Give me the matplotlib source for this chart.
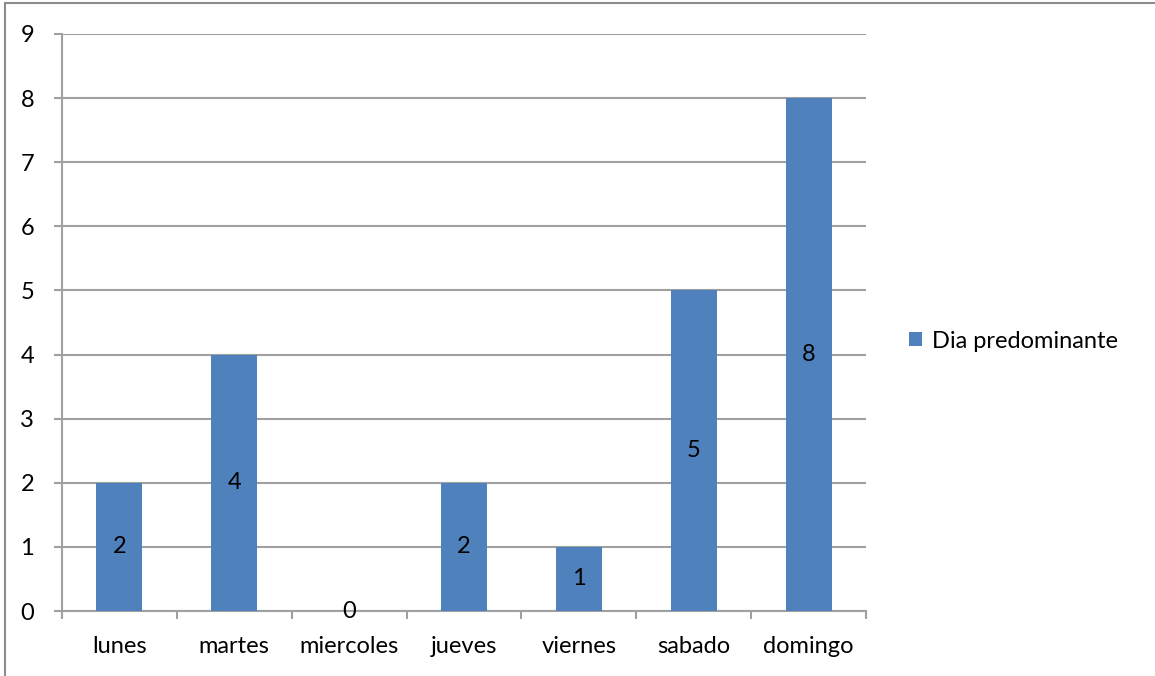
import numpy as np
import matplotlib.pyplot as plt
from matplotlib.patches import Rectangle

dias = ['lunes', 'martes', 'miercoles', 'jueves', 'viernes', 'sabado', 'domingo']
valores = [2, 4, 0, 2, 1, 5, 8]
serie = 'Dia predominante'

plt.rcParams['font.family'] = ['Lato', 'DejaVu Sans']
azul = '#4F81BD'
gris = '#A0A0A0'
fs = 17

fig = plt.figure(figsize=(11.55, 6.76), dpi=100)
ax = fig.add_axes([62 / 1155, 1 - 611 / 676, 804 / 1155, 577 / 676])

x = np.arange(len(dias))
ax.bar(x, valores, width=0.4, color=azul, label=serie, zorder=3)
for xi, v in zip(x, valores):
    ax.text(xi, v / 2, str(v), ha='center', va='center', fontsize=fs, zorder=4)

ax.set_xlim(-0.5, len(dias) - 0.5)
ax.set_ylim(0, 9)
ax.set_yticks(range(10))
ax.set_xticks(x)
ax.set_xticklabels(dias)
ax.set_xticks(np.arange(-0.5, len(dias)), minor=True)
ax.tick_params(axis='x', which='major', length=0, pad=18, labelsize=fs)
ax.tick_params(axis='x', which='minor', length=6, width=1.5, color=gris)
ax.tick_params(axis='y', length=6, width=1.5, color=gris, pad=14, labelsize=fs)
ax.yaxis.grid(True, color=gris, linewidth=1.5, zorder=0)
ax.set_axisbelow(True)
for s in ['top', 'right']:
    ax.spines[s].set_visible(False)
for s in ['left', 'bottom']:
    ax.spines[s].set_color(gris)
    ax.spines[s].set_linewidth(1.5)

ax.legend(loc='center left', bbox_to_anchor=(888 / 1155, 1 - 341 / 676),
          bbox_transform=fig.transFigure, frameon=False, fontsize=fs,
          handlelength=0.55, handleheight=0.55, handletextpad=0.4)

fig.patches.append(Rectangle((5 / 1155, -0.01), 1.1, 1 - 3 / 676 + 0.01,
                             transform=fig.transFigure, fill=False,
                             edgecolor='#8C8C8C', linewidth=1.5))

fig.savefig('out.png', dpi=100)
